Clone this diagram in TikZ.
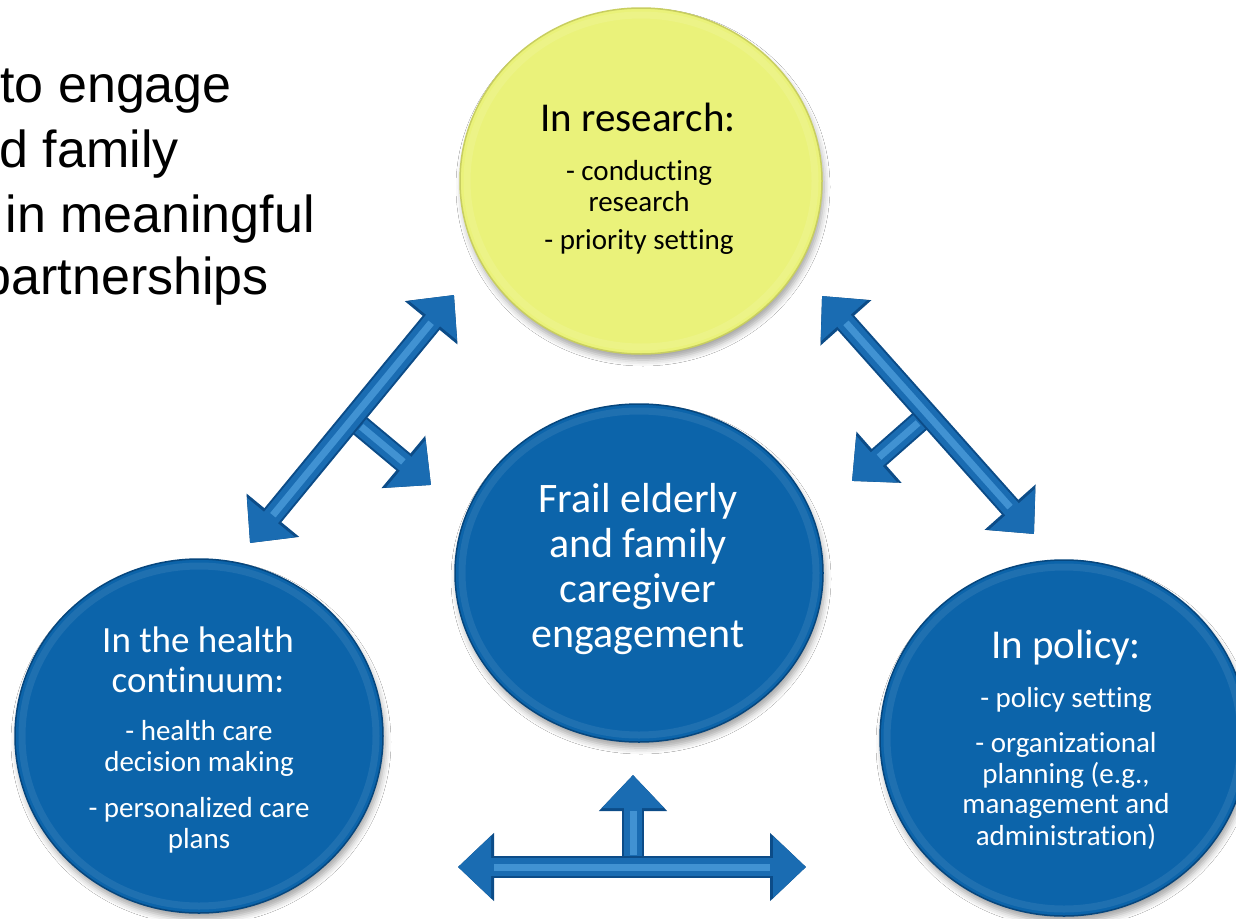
\documentclass[tikz,border=0pt]{standalone}
\usepackage{fontspec}
\setmainfont[Ligatures=NoCommon]{Carlito}
\newfontfamily\arialfont{Liberation Sans}
\usetikzlibrary{arrows.meta,shapes.geometric,shadows.blur}
\definecolor{cblue}{RGB}{12,100,170}
\definecolor{cbluedark}{RGB}{6,70,125}
\definecolor{cyellow}{RGB}{234,242,122}
\definecolor{cyellowdark}{RGB}{200,206,96}
\definecolor{ablue}{RGB}{26,108,178}
\definecolor{alight}{RGB}{92,172,232}
\definecolor{adark}{RGB}{12,76,136}
\tikzset{
  bub/.style={ellipse, inner sep=0pt, line width=1.5pt,
    blur shadow={shadow xshift=2pt, shadow yshift=-6pt, shadow blur radius=6pt, shadow opacity=35}},
  bluebub/.style={bub, fill=cblue, draw=cbluedark},
  yelbub/.style={bub, fill=cyellow, draw=cyellowdark},
  head/.style={anchor=base, inner sep=0pt, font=\fontsize{41}{41}\selectfont},
  item/.style={anchor=base, inner sep=0pt, font=\fontsize{29}{29}\selectfont},
  wt/.style={text=white},
  ttl/.style={anchor=base east, inner sep=0pt, font=\arialfont\fontsize{52}{52}\selectfont},
  arrshadow/.style={>={Triangle[width=64pt,length=35pt]}, line width=20pt, draw=black, fill=black, opacity=.18, shift={(4,6)}},
  arrout/.style={>={Triangle[width=66pt,length=36pt]}, line width=22pt, draw=adark, fill=adark},
  arrmain/.style={>={Triangle[width=60pt,length=33pt]}, line width=18pt, draw=ablue, fill=ablue},
  arrhi/.style={line width=7pt, draw=alight, opacity=.6},
}
\newcommand\blockarrow[4]{%
  \draw[arrshadow,#1] (#2) -- (#3);
  \draw[arrout,#1] (#2) -- (#3);
  \draw[arrmain,#1] (#2) -- (#3);
  \draw[arrhi, shorten <=#4, shorten >=36pt] (#2) -- (#3);
}
\begin{document}
\begin{tikzpicture}[x=1pt,y=-1pt]
\useasboundingbox (0,0) rectangle (1236,918);
\clip (0,0) rectangle (1236,918);
\fill[white] (0,0) rectangle (1236,918);

% title (cut off at the left)
\node[ttl] (t1) at (232,102) {to engage};
\node[ttl] (t2) at (179,167) {d family};
\node[ttl] (t3) at (315,232) {in meaningful};
\node[ttl] (t4) at (269,294) {partnerships};

% circles
\node[yelbub, minimum width=362pt, minimum height=346pt] (research) at (641,181) {};
\node[bluebub, minimum width=368pt, minimum height=338pt] (centre) at (639,573) {};
\node[bluebub, minimum width=368pt, minimum height=354pt] (health) at (199,736) {};
\node[bluebub, minimum width=368pt, minimum height=356pt] (policy) at (1064,738) {};
\draw[white, opacity=.10, line width=7pt] (research.center) ellipse [x radius=174pt, y radius=166pt];
\foreach \n/\rx/\ry in {centre/177/162, health/177/170, policy/177/171}
  \draw[white, opacity=.08, line width=7pt] (\n.center) ellipse [x radius=\rx pt, y radius=\ry pt];

% arrows
\coordinate (L1) at (250,543);
\coordinate (L2) at (454,295);
\coordinate (LB) at (352,419);
\coordinate (LT) at (431,485);
\coordinate (R1) at (822,296);
\coordinate (R2) at (1034,534);
\coordinate (RB) at (927,415);
\coordinate (RT) at (852,481);
\coordinate (B1) at (458,867);
\coordinate (B2) at (806,867);
\coordinate (BB) at (633,867);
\coordinate (BT) at (633,775);

\blockarrow{->}{LB}{LT}{12pt}
\blockarrow{<->}{L1}{L2}{36pt}
\blockarrow{->}{RB}{RT}{12pt}
\blockarrow{<->}{R1}{R2}{36pt}
\blockarrow{->}{BB}{BT}{12pt}
\blockarrow{<->}{B1}{B2}{36pt}

% texts
\node[head] (r0) at (638,131) {In research:};
\node[item] (r1) at (639,180) {- conducting};
\node[item] (r2) at (639,211) {research};
\node[item] (r3) at (639,249) {- priority setting};

\node[head, wt, font=\fontsize{42}{42}\selectfont] (c1) at (638,512) {Frail elderly};
\node[head, wt, font=\fontsize{42}{42}\selectfont] (c2) at (638,557) {and family};
\node[head, wt, font=\fontsize{42}{42}\selectfont] (c3) at (638,602) {caregiver};
\node[head, wt, font=\fontsize{42}{42}\selectfont] (c4) at (638,647) {engagement};

\node[head, wt, font=\fontsize{37}{37}\selectfont] (h0) at (198,652) {In the health};
\node[head, wt, font=\fontsize{37}{37}\selectfont] (h1) at (198,692) {continuum:};
\node[item, wt] (h2) at (199,740) {- health care};
\node[item, wt] (h3) at (199,771) {decision making};
\node[item, wt] (h4) at (199,817) {- personalized care};
\node[item, wt] (h5) at (199,848) {plans};

\node[head, wt] (p0) at (1066,658) {In policy:};
\node[item, wt] (p1) at (1066,707) {- policy setting};
\node[item, wt] (p2) at (1066,752) {- organizational};
\node[item, wt] (p3) at (1066,783) {planning (e.g.,};
\node[item, wt] (p4) at (1066,813) {management and};
\node[item, wt] (p5) at (1066,845) {administration)};
\end{tikzpicture}
\end{document}
